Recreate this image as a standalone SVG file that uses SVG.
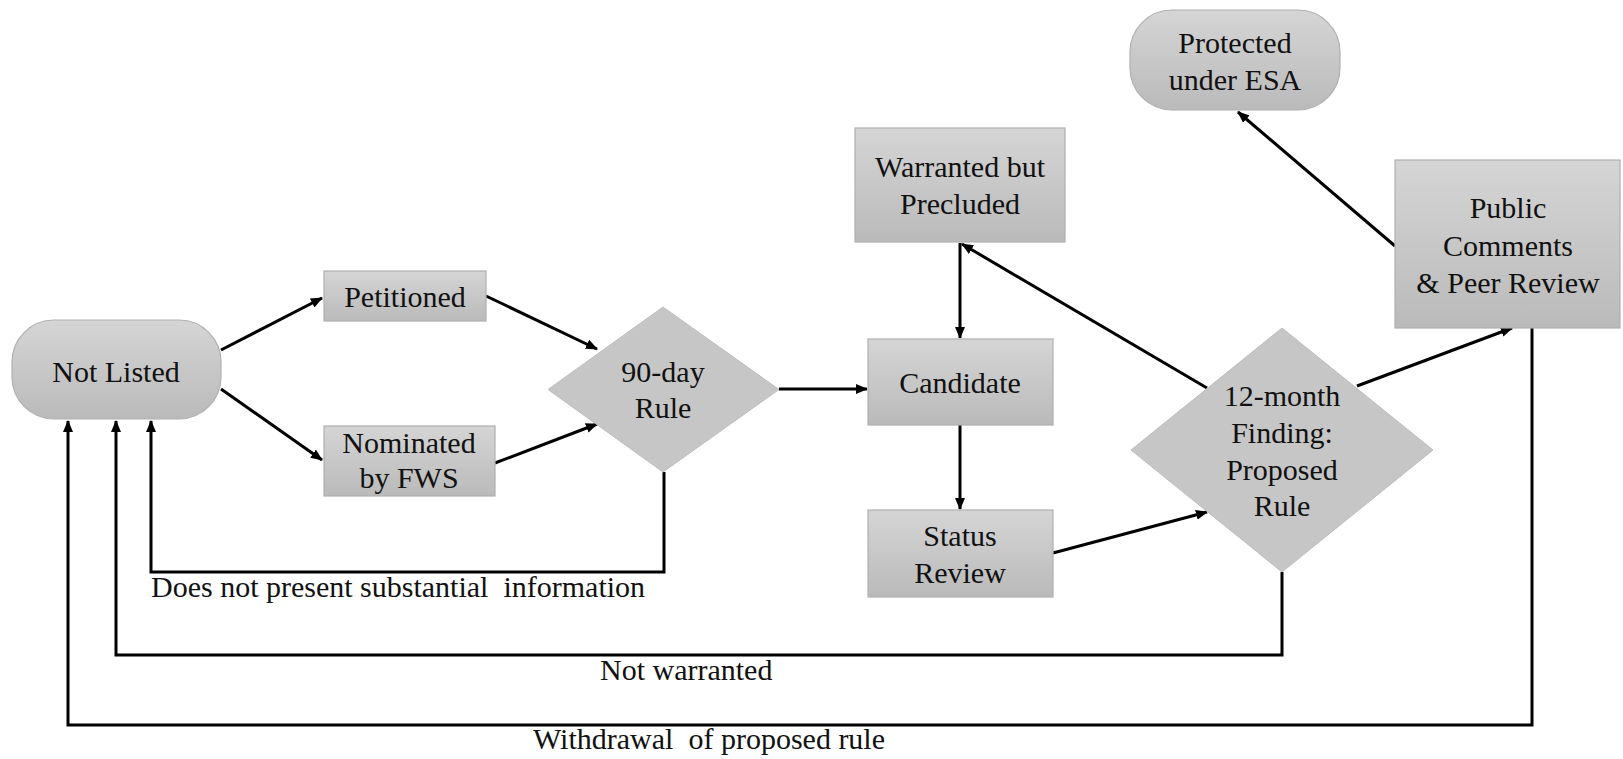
<svg xmlns="http://www.w3.org/2000/svg" width="1623" height="759" viewBox="0 0 1623 759">
<defs>
<linearGradient id="g" x1="0" y1="0" x2="0" y2="1">
<stop offset="0" stop-color="#d5d5d5"/>
<stop offset="1" stop-color="#bababa"/>
</linearGradient>
<marker id="ah" viewBox="0 0 12 10" refX="11" refY="5" markerWidth="12" markerHeight="10" markerUnits="userSpaceOnUse" orient="auto">
<path d="M0,0 L12,5 L0,10 z" fill="#000"/>
</marker>
<style>
.n{fill:url(#g);stroke:#b0b0b0;stroke-width:1.2}
.d{fill:#c6c6c6;stroke:#bdbdbd;stroke-width:1}
text{font-family:"Liberation Serif","Times New Roman",serif;font-size:30px;fill:#111}
.c{text-anchor:middle}
.e{fill:none;stroke:#000;stroke-width:3}
.a{marker-end:url(#ah)}
</style>
</defs>
<rect width="1623" height="759" fill="#fff"/>
<g id="connectors">
<line class="e a" x1="221" y1="350" x2="322" y2="298"/>
<line class="e a" x1="221" y1="389" x2="322" y2="460"/>
<line class="e a" x1="486" y1="296" x2="597" y2="349"/>
<line class="e a" x1="495" y1="463" x2="597" y2="424"/>
<line class="e a" x1="779" y1="389" x2="867" y2="389"/>
<line class="e a" x1="960" y1="243" x2="960" y2="338"/>
<line class="e a" x1="960" y1="425" x2="960" y2="509"/>
<line class="e a" x1="1053" y1="553" x2="1207" y2="512"/>
<line class="e a" x1="1207" y1="388" x2="962" y2="244"/>
<line class="e a" x1="1357" y1="386" x2="1512" y2="328"/>
<line class="e a" x1="1395" y1="246" x2="1238" y2="112"/>
<polyline class="e a" points="664,472 664,572 151,572 151,421"/>
<polyline class="e a" points="1282,572 1282,655 116,655 116,421"/>
<polyline class="e a" points="1532,328 1532,725 68,725 68,421"/>
<text x="151" y="597" style="white-space:pre">Does not present substantial  information</text>
<text x="600" y="680">Not warranted</text>
<text x="533" y="749" style="white-space:pre">Withdrawal  of proposed rule</text>
</g>
<g id="not-listed">
<rect class="n" x="12" y="320" width="209" height="99" rx="42" ry="42"/>
<text class="c" x="116" y="382">Not Listed</text>
</g>
<g id="petitioned">
<rect class="n" x="324" y="271" width="162" height="50"/>
<text class="c" x="405" y="307">Petitioned</text>
</g>
<g id="nominated">
<rect class="n" x="324" y="426" width="171" height="70"/>
<text class="c" x="409" y="453">Nominated</text>
<text class="c" x="409" y="488">by FWS</text>
</g>
<g id="rule90">
<polygon class="d" points="663,307 779,389.5 663,472 548,389.5"/>
<text class="c" x="663" y="382">90-day</text>
<text class="c" x="663" y="418">Rule</text>
</g>
<g id="warranted">
<rect class="n" x="855" y="128" width="210" height="114"/>
<text class="c" x="960" y="177">Warranted but</text>
<text class="c" x="960" y="214">Precluded</text>
</g>
<g id="candidate">
<rect class="n" x="868" y="339" width="185" height="86"/>
<text class="c" x="960" y="393">Candidate</text>
</g>
<g id="status-review">
<rect class="n" x="868" y="510" width="185" height="87"/>
<text class="c" x="960" y="546">Status</text>
<text class="c" x="960" y="583">Review</text>
</g>
<g id="finding12">
<polygon class="d" points="1282,328 1433,450 1282,572 1131,450"/>
<text class="c" x="1282" y="406">12-month</text>
<text class="c" x="1282" y="443">Finding:</text>
<text class="c" x="1282" y="480">Proposed</text>
<text class="c" x="1282" y="516">Rule</text>
</g>
<g id="public-comments">
<rect class="n" x="1395" y="160" width="225" height="168"/>
<text class="c" x="1508" y="218">Public</text>
<text class="c" x="1508" y="256">Comments</text>
<text class="c" x="1508" y="293">&amp; Peer Review</text>
</g>
<g id="protected">
<rect class="n" x="1130" y="10" width="210" height="100" rx="42" ry="42"/>
<text class="c" x="1235" y="53">Protected</text>
<text class="c" x="1235" y="90">under ESA</text>
</g>
</svg>
